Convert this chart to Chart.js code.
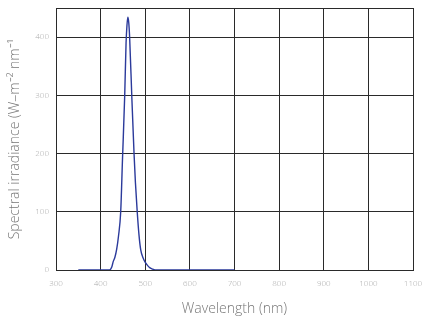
<!DOCTYPE html>
<html>
<head>
<meta charset="utf-8">
<script src="https://cdn.jsdelivr.net/npm/chart.js@4"></script>
<style>
  html, body { margin: 0; padding: 0; background: #fff; }
  #wrap { width: 425px; height: 321px; }
</style>
</head>
<body>
<div id="wrap"><canvas id="graphic"></canvas></div>
<script>
// wavelength (nm) and spectral irradiance
var wavelengths = [350, 380, 410, 420, 425, 428, 432, 436, 440, 445, 449, 454, 457, 459, 461, 463, 465, 470, 475, 478, 482, 486, 490, 495, 500, 505, 510, 515, 522, 560, 600, 650, 700];
var irradiance  = [0,   0,   0,   0,   5,   14,  22,  36,  58,  100, 190, 300, 390, 420, 434, 425, 400, 295, 198, 150, 100, 60,  34,  21,  13,  8,   4,   2,   0,   0,   0,   0,   0];
var xTicks = [300, 400, 500, 600, 700, 800, 900, 1000, 1100];
var yTicks = [0, 100, 200, 300, 400];

var points = wavelengths.map(function (w, i) { return { x: w, y: irradiance[i] }; });

var ctx = document.getElementById('graphic').getContext('2d');

var gridColor = '#2a2a2a';
var tickColor = '#aaaaaa';
var titleColor = '#777777';

var graphic = new Chart(ctx, {
    type: 'line',
    data: {
        datasets: [{
            data: points,
            borderColor: '#2b3a9b',
            borderWidth: 1.4,
            pointRadius: 0,
            fill: false,
            cubicInterpolationMode: 'monotone'
        }]
    },
    options: {
        responsive: true,
        maintainAspectRatio: false,
        animation: false,
        layout: { padding: { top: 8, right: 12, left: 3, bottom: 0 } },
        plugins: { legend: { display: false }, tooltip: { enabled: false } },
        scales: {
            x: {
                type: 'linear',
                min: 300,
                max: 1100,
                afterBuildTicks: function (axis) {
                    axis.ticks = xTicks.map(function (v) { return { value: v }; });
                },
                afterFit: function (axis) {
                    axis.height = 51;
                    axis.paddingLeft = 0;
                    axis.paddingRight = 0;
                },
                grid: { color: gridColor, lineWidth: 1, drawTicks: false },
                border: { color: gridColor },
                ticks: {
                    color: tickColor,
                    padding: 9,
                    maxRotation: 0,
                    callback: function (v) { return String(v); },
                    font: { family: 'Open Sans', size: 8, weight: 300 }
                },
                title: {
                    display: true,
                    text: 'Wavelength (nm)',
                    color: titleColor,
                    padding: { top: 6 },
                    font: { family: 'Open Sans', size: 14, weight: 300 }
                }
            },
            y: {
                min: 0,
                max: 450,
                afterBuildTicks: function (axis) {
                    axis.ticks = yTicks.concat([450]).map(function (v) { return { value: v }; });
                },
                afterFit: function (axis) {
                    axis.width = 53;
                    axis.paddingTop = 0;
                    axis.paddingBottom = 0;
                },
                grid: { color: gridColor, lineWidth: 1, drawTicks: false },
                border: { color: gridColor },
                ticks: {
                    color: tickColor,
                    padding: 7,
                    callback: function (v) { return v === 450 ? '' : String(v); },
                    font: { family: 'Open Sans', size: 8, weight: 300 }
                },
                title: {
                    display: true,
                    text: 'Spectral irradiance (W–m⁻² nm⁻¹',
                    color: titleColor,
                    padding: { bottom: 4 },
                    font: { family: 'Open Sans', size: 14, weight: 300 }
                }
            }
        }
    }
});
</script>
</body>
</html>
